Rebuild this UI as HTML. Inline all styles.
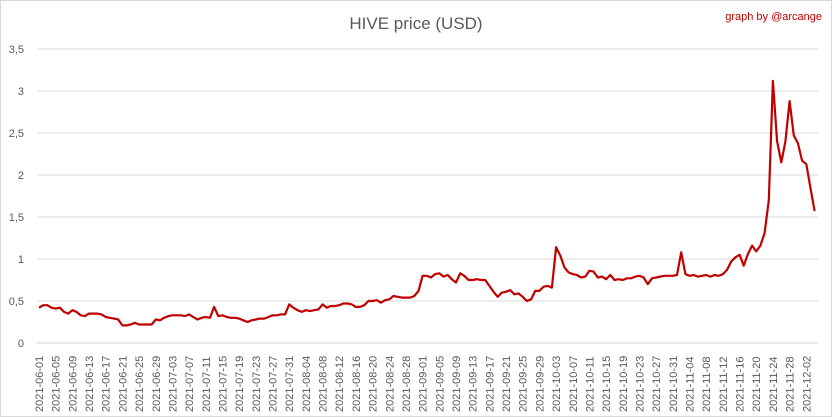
<!DOCTYPE html>
<html><head><meta charset="utf-8"><style>
html,body{margin:0;padding:0;background:#fff;}
svg{display:block;font-family:"Liberation Sans",sans-serif;}
</style></head><body>
<svg id="c" width="832" height="417" xmlns="http://www.w3.org/2000/svg">
<rect x="0.5" y="0.5" width="831" height="416" fill="#fff" stroke="#d9d9d9"/>
<text x="416" y="29" text-anchor="middle" font-size="17" fill="#595959">HIVE price (USD)</text>
<text x="822" y="20" text-anchor="end" font-size="11" fill="#c00000">graph by @arcange</text>
<g id="g"></g>
</svg>
<script>
var v=[0.42,0.45,0.45,0.42,0.41,0.42,0.37,0.35,0.39,0.37,0.33,0.32,0.35,0.35,0.35,0.34,0.31,0.30,0.29,0.28,0.21,0.21,0.22,0.24,0.22,0.22,0.22,0.22,0.28,0.27,
0.30,0.32,0.33,0.33,0.33,0.32,0.34,0.31,0.28,0.30,0.31,0.30,0.43,0.32,0.33,0.31,0.30,0.30,0.29,0.27,0.25,0.27,0.28,0.29,0.29,0.31,0.33,0.33,0.34,0.34,0.46,
0.42,0.39,0.37,0.39,0.38,0.39,0.40,0.46,0.42,0.44,0.44,0.45,0.47,0.47,0.46,0.43,0.43,0.45,0.50,0.50,0.51,0.48,0.51,0.52,0.56,0.55,0.54,0.54,0.54,0.56,0.62,
0.80,0.80,0.78,0.82,0.83,0.79,0.81,0.76,0.72,0.83,0.80,0.75,0.75,0.76,0.75,0.75,0.68,0.61,0.55,0.60,0.61,0.63,0.58,0.59,0.55,0.50,0.52,0.62,0.62,0.67,
0.68,0.66,1.14,1.04,0.90,0.84,0.82,0.81,0.78,0.79,0.86,0.85,0.78,0.79,0.76,0.81,0.75,0.76,0.75,0.77,0.77,0.79,0.80,0.78,0.70,0.77,0.78,0.79,0.80,0.80,0.80,
0.81,1.08,0.82,0.80,0.81,0.79,0.80,0.81,0.79,0.81,0.80,0.82,0.87,0.97,1.02,1.05,0.92,1.06,1.16,1.09,1.16,1.31,1.70,3.12,2.40,2.15,2.40,2.88,2.47,2.38,
2.17,2.13,1.85,1.57];
var s='',x0=39,step=4.17;
function Y(a){return 343-a*84;}
var yl=["0","0,5","1","1,5","2","2,5","3","3,5"];
for(var i=0;i<8;i++){var y=343-i*42;
 s+='<line x1="37" x2="818" y1="'+y+'" y2="'+y+'" stroke="'+(i==0?'#d0d0d0':'#d9d9d9')+'" stroke-width="1"/>';
 s+='<text x="24" y="'+(y+4)+'" text-anchor="end" font-size="11" fill="#595959">'+yl[i]+'</text>';}
var d0=new Date(Date.UTC(2021,5,1));
for(var k=0;k<=184;k+=4){var dt=new Date(d0.getTime()+k*864e5);
 var t=dt.getUTCFullYear()+'-'+('0'+(dt.getUTCMonth()+1)).slice(-2)+'-'+('0'+dt.getUTCDate()).slice(-2);
 var x=x0+k*step+4;
 s+='<text transform="translate('+x+',412) rotate(-90)" font-size="11" fill="#595959">'+t+'</text>';}
var p=[];for(var i=0;i<v.length;i++)p.push((x0+i*step).toFixed(1)+','+Y(v[i]).toFixed(1));
s+='<polyline points="'+p.join(' ')+'" fill="none" stroke="#c00000" stroke-width="2.2" stroke-linejoin="round"/>';
document.getElementById('g').innerHTML=s;
</script>
</body></html>
